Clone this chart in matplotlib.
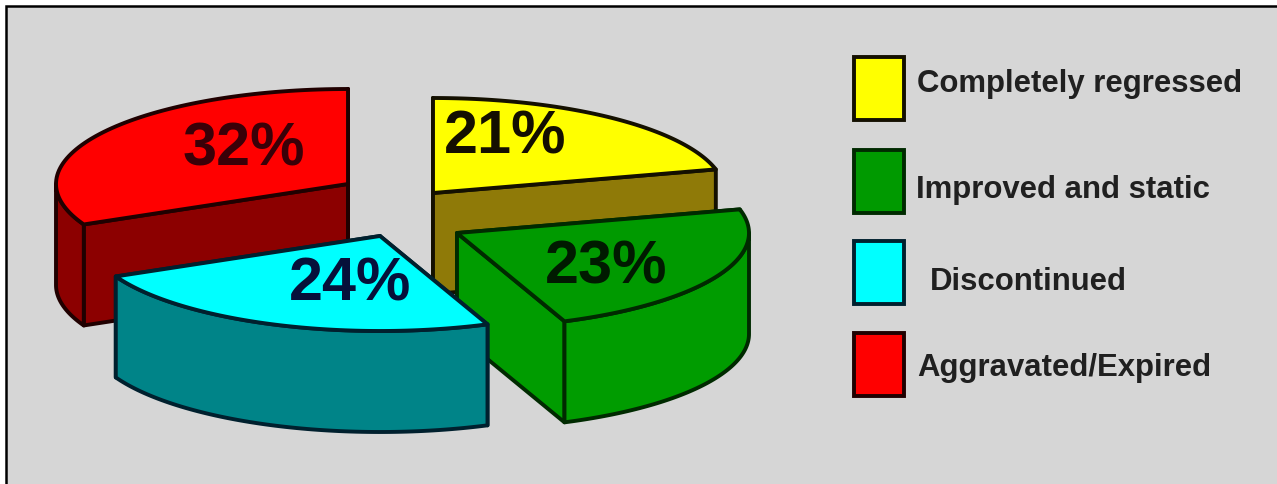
import numpy as np
import matplotlib
matplotlib.use("Agg")
import matplotlib.pyplot as plt
from matplotlib.patches import Polygon, Rectangle

# data, clockwise from 12 o'clock like the original pie
categories = ["Completely regressed", "Improved and static", "Discontinued", "Aggravated/Expired"]
percentages = [21, 23, 24, 32]

top_colors = ["#ffff00", "#009a00", "#00ffff", "#ff0000"]
side_colors = ["#8f7a08", "#009c00", "#008488", "#8c0000"]
edge_colors = ["#141000", "#002a00", "#00202e", "#200000"]
text_colors = ["#140f00", "#001a00", "#06103a", "#3a0008"]

# where each exploded slice has its tip (image pixels)
tip_x = [433, 457, 380, 348]
tip_y = [193, 233, 236, 184]
label_x = [505, 606, 350, 244]
label_y = [138, 268, 285, 150]

RX, RY = 292, 95
DEPTH = 101
BG = "#d6d6d6"


def arc_points(cx, cy, a0, a1):
    # a0, a1 in degrees clockwise from the top of the pie
    t = np.radians(np.linspace(a0, a1, 80))
    return np.column_stack([cx + RX * np.sin(t), cy - RY * np.cos(t)])


def draw_slice(ax, cx, cy, a0, a1, top, side, edge):
    kw = dict(facecolor=side, edgecolor=edge, linewidth=2.8, joinstyle="round")
    # flat cut faces first
    for a in (a0, a1):
        p = arc_points(cx, cy, a, a)[0]
        ax.add_patch(Polygon([(cx, cy), p, p + [0, DEPTH], (cx, cy + DEPTH)], **kw))
    # outer wall, only the part facing the viewer
    w0, w1 = max(a0, 90), min(a1, 270)
    if w1 > w0:
        arc = arc_points(cx, cy, w0, w1)
        ax.add_patch(Polygon(np.vstack([arc, (arc + [0, DEPTH])[::-1]]), **kw))
    # top
    pts = np.vstack([[(cx, cy)], arc_points(cx, cy, a0, a1)])
    ax.add_patch(Polygon(pts, facecolor=top, edgecolor=edge, linewidth=2.8, joinstyle="round"))


fig = plt.figure(figsize=(12.77, 4.84), dpi=100, facecolor="white")
ax = fig.add_axes([0, 0, 1, 1])
ax.set_xlim(0, 1277)
ax.set_ylim(484, 0)
ax.axis("off")

# grey panel, the black frame only shows on the left and top
ax.add_patch(Rectangle((6, 6), 1300, 500, facecolor=BG, edgecolor="black", linewidth=1.8))

ends = np.cumsum(percentages) * 3.6
starts = ends - np.array(percentages) * 3.6

# back slices first so the front ones cover them
for i in [3, 0, 1, 2]:
    draw_slice(ax, tip_x[i], tip_y[i], starts[i], ends[i], top_colors[i], side_colors[i], edge_colors[i])

for i in range(len(percentages)):
    ax.text(label_x[i], label_y[i], f"{percentages[i]}%", ha="center", va="center",
            fontsize=44, fontweight="bold", family="Liberation Sans", color=text_colors[i])

# legend, hand placed since the spacing in the original is uneven
swatch_y = [57, 150, 241, 333]
legend_text_x = [917, 916, 930, 917]
legend_base_y = [92, 198, 290, 376]
for i, name in enumerate(categories):
    ax.add_patch(Rectangle((854, swatch_y[i]), 50, 63, facecolor=top_colors[i],
                           edgecolor=edge_colors[i], linewidth=2.8))
    ax.text(legend_text_x[i], legend_base_y[i], name, ha="left", va="baseline", fontsize=22.4,
            fontweight="bold", family="Liberation Sans", color="#202020")

fig.savefig("out.png", dpi=100)
plt.close(fig)
